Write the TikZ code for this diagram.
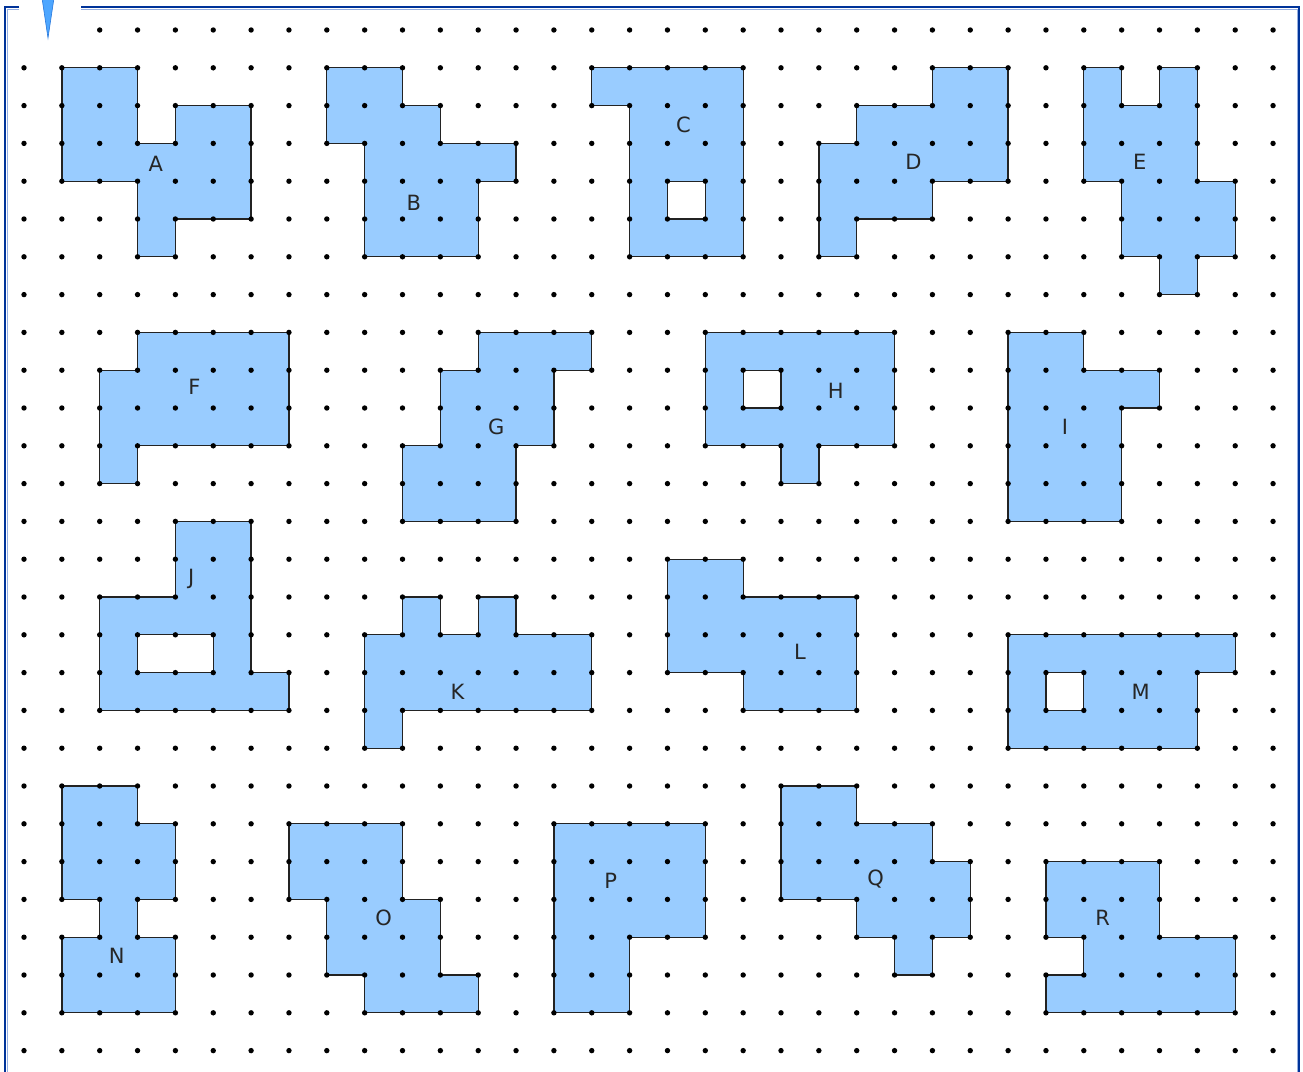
\documentclass[tikz,border=0pt]{standalone}
\usepackage{fontspec}
\setmainfont{DejaVu Sans}
\definecolor{shapefill}{RGB}{153,204,255}
\definecolor{edgec}{RGB}{35,35,35}
\definecolor{framedark}{RGB}{0,51,153}
\definecolor{framelight}{RGB}{150,175,225}
\definecolor{trifill}{RGB}{77,166,255}
\definecolor{triedge}{RGB}{40,120,220}
\begin{document}
\begin{tikzpicture}[x=1pt,y=-1pt,
  poly/.style={fill=shapefill, draw=edgec, line width=1.3pt, line join=miter, even odd rule},
  lbl/.style={font=\fontsize{21}{25}\selectfont, inner sep=0pt, text=black!85},
  gdot/.style={fill=black}]
\useasboundingbox (0,0) rectangle (1303,1071);
\fill[white] (0,0) rectangle (1303,1071);
% frame
\draw[framelight, line width=1.2pt] (19,9.2) -- (7.3,9.2) -- (7.3,1075);
\draw[framelight, line width=1.2pt] (81,9.2) -- (1297.2,9.2) -- (1297.2,1075);
\draw[framedark, line width=2pt] (19,7) -- (5,7) -- (5,1075);
\draw[framedark, line width=2pt] (81,7) -- (1299.3,7) -- (1299.3,1075);
\coordinate (tl) at (42,-2);
\coordinate (tr) at (54,-2);
\coordinate (tb) at (48,38);
\draw[fill=trifill, draw=triedge, line width=0.6pt] (tl) -- (tr) -- (tb) -- cycle;
\begin{scope}[shift={(24,30)}, x=37.85pt, y=-37.8pt]
% A
\path[poly] (1,1)--(3,1)--(3,3)--(4,3)--(4,2)--(6,2)--(6,5)--(4,5)--(4,6)--(3,6)--(3,4)--(1,4)--cycle;
\node[lbl] (labA) at (3.48,3.55) {A};
% B
\path[poly] (8,1)--(10,1)--(10,2)--(11,2)--(11,3)--(13,3)--(13,4)--(12,4)--(12,6)--(9,6)--(9,3)--(8,3)--cycle;
\node[lbl] (labB) at (10.3,4.58) {B};
% C
\path[poly] (15,1)--(19,1)--(19,6)--(16,6)--(16,2)--(15,2)--cycle (17,4)--(18,4)--(18,5)--(17,5)--cycle;
\node[lbl] (labC) at (17.42,2.5) {C};
% D
\path[poly] (21,3)--(22,3)--(22,2)--(24,2)--(24,1)--(26,1)--(26,4)--(24,4)--(24,5)--(22,5)--(22,6)--(21,6)--cycle;
\node[lbl] (labD) at (23.5,3.5) {D};
% E
\path[poly] (28,1)--(29,1)--(29,2)--(30,2)--(30,1)--(31,1)--(31,4)--(32,4)--(32,6)--(31,6)--(31,7)--(30,7)--(30,6)--(29,6)--(29,4)--(28,4)--cycle;
\node[lbl] (labE) at (29.48,3.5) {E};
% F
\path[poly] (3,8)--(7,8)--(7,11)--(3,11)--(3,12)--(2,12)--(2,9)--(3,9)--cycle;
\node[lbl] (labF) at (4.5,9.45) {F};
% G
\path[poly] (12,8)--(15,8)--(15,9)--(14,9)--(14,11)--(13,11)--(13,13)--(10,13)--(10,11)--(11,11)--(11,9)--(12,9)--cycle;
\node[lbl] (labG) at (12.48,10.5) {G};
% H
\path[poly] (18,8)--(23,8)--(23,11)--(21,11)--(21,12)--(20,12)--(20,11)--(18,11)--cycle (19,9)--(20,9)--(20,10)--(19,10)--cycle;
\node[lbl] (labH) at (21.45,9.55) {H};
% I
\path[poly] (26,8)--(28,8)--(28,9)--(30,9)--(30,10)--(29,10)--(29,13)--(26,13)--cycle;
\node[lbl] (labI) at (27.5,10.5) {I};
% J
\path[poly] (4,13)--(6,13)--(6,17)--(7,17)--(7,18)--(2,18)--(2,15)--(4,15)--cycle (3,16)--(5,16)--(5,17)--(3,17)--cycle;
\node[lbl] (labJ) at (4.42,14.52) {J};
% K
\path[poly] (9,16)--(10,16)--(10,15)--(11,15)--(11,16)--(12,16)--(12,15)--(13,15)--(13,16)--(15,16)--(15,18)--(10,18)--(10,19)--(9,19)--cycle;
\node[lbl] (labK) at (11.45,17.5) {K};
% L
\path[poly] (17,14)--(19,14)--(19,15)--(22,15)--(22,18)--(19,18)--(19,17)--(17,17)--cycle;
\node[lbl] (labL) at (20.5,16.45) {L};
% M
\path[poly] (26,16)--(32,16)--(32,17)--(31,17)--(31,19)--(26,19)--cycle (27,17)--(28,17)--(28,18)--(27,18)--cycle;
\node[lbl] (labM) at (29.5,17.5) {M};
% N
\path[poly] (1,20)--(3,20)--(3,21)--(4,21)--(4,23)--(3,23)--(3,24)--(4,24)--(4,26)--(1,26)--(1,24)--(2,24)--(2,23)--(1,23)--cycle;
\node[lbl] (labN) at (2.45,24.5) {N};
% O
\path[poly] (7,21)--(10,21)--(10,23)--(11,23)--(11,25)--(12,25)--(12,26)--(9,26)--(9,25)--(8,25)--(8,23)--(7,23)--cycle;
\node[lbl] (labO) at (9.5,23.5) {O};
% P
\path[poly] (14,21)--(18,21)--(18,24)--(16,24)--(16,26)--(14,26)--cycle;
\node[lbl] (labP) at (15.5,22.5) {P};
% Q
\path[poly] (20,20)--(22,20)--(22,21)--(24,21)--(24,22)--(25,22)--(25,24)--(24,24)--(24,25)--(23,25)--(23,24)--(22,24)--(22,23)--(20,23)--cycle;
\node[lbl] (labQ) at (22.5,22.45) {Q};
% R
\path[poly] (27,22)--(30,22)--(30,24)--(32,24)--(32,26)--(27,26)--(27,25)--(28,25)--(28,24)--(27,24)--cycle;
\node[lbl] (labR) at (28.5,23.5) {R};
% dots
\foreach \i in {2,...,33} { \fill[gdot] (\i,0) circle (2.7pt); }
\foreach \j in {1,...,27} { \foreach \i in {0,...,33} { \fill[gdot] (\i,\j) circle (2.7pt); } }
\end{scope}
\end{tikzpicture}
\end{document}
